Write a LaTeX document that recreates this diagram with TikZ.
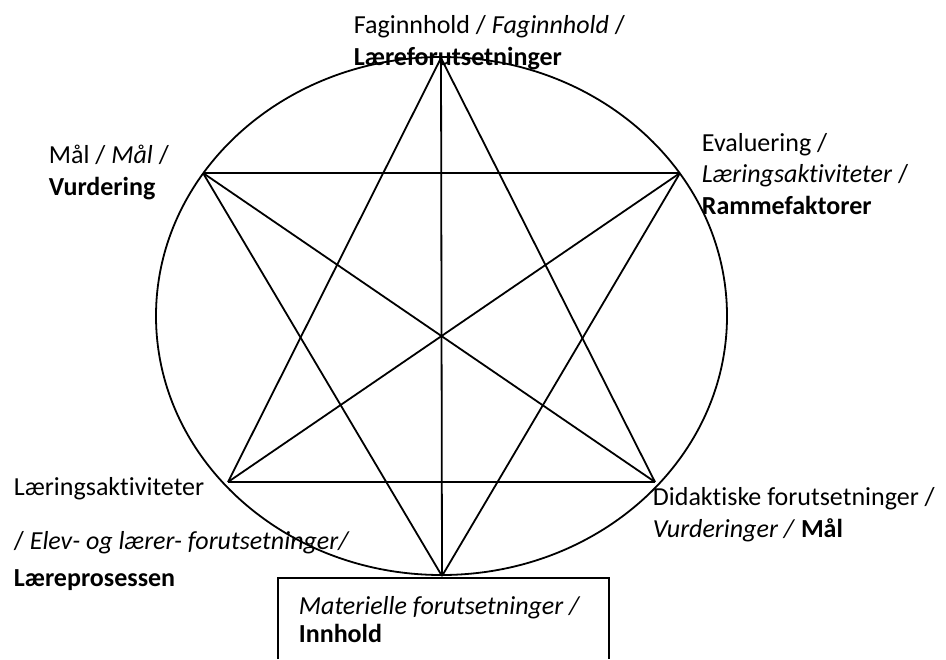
\documentclass[tikz,border=0pt]{standalone}
\usepackage{fontspec}
\setmainfont{Carlito}[Ligatures=NoCommon]
\usetikzlibrary{positioning}

\begin{document}
\begin{tikzpicture}[x=.5pt,y=-.5pt,line width=.9pt,
  lbl/.style={anchor=base west,align=left,inner sep=0pt,font=\fontsize{13}{15.7}\selectfont}]
\useasboundingbox[fill=white] (0,0) rectangle (946,659);
% star points
\coordinate (top) at (441,58);
\coordinate (ul) at (203,173);
\coordinate (ur) at (680,173);
\coordinate (ll) at (228,482);
\coordinate (lr) at (655,482);
\coordinate (bot) at (442,576);
\draw (441.5,316) ellipse [x radius=142.75pt,y radius=129.5pt];
\foreach \a/\b in {top/ll,ll/lr,lr/top,ul/ur,ur/bot,bot/ul,ul/lr,ur/ll,top/bot}
 \draw (\a) -- (\b);
% open box at the bottom
\draw (278,659) |- (609,578) -- (609,659);
% labels (placed at the baseline of their last line)
\node[lbl] (fag) at (353,65) {Faginnhold / \textit{Faginnhold} /\\ \textbf{Læreforutsetninger}};
\node[lbl] (maal) at (48,195) {Mål / \textit{Mål} /\\ \textbf{Vurdering}};
\node[lbl] (eval) at (701,214) {Evaluering /\\ \textit{Læringsaktiviteter} /\\ \textbf{Rammefaktorer}};
\node[lbl] (laer) at (13,586) {Læringsaktiviteter\\[11.3pt] / \textit{Elev- og lærer- forutsetninger/}\\[2.8pt] \textbf{Læreprosessen}};
\node[lbl] (dida) at (652,537) {Didaktiske forutsetninger /\\ \textit{Vurderinger /} \textbf{Mål}};
\node[lbl] (mat) at (298,642) {\textit{Materielle forutsetninger /}\\[-2pt] \textbf{Innhold}};
\end{tikzpicture}
\end{document}
